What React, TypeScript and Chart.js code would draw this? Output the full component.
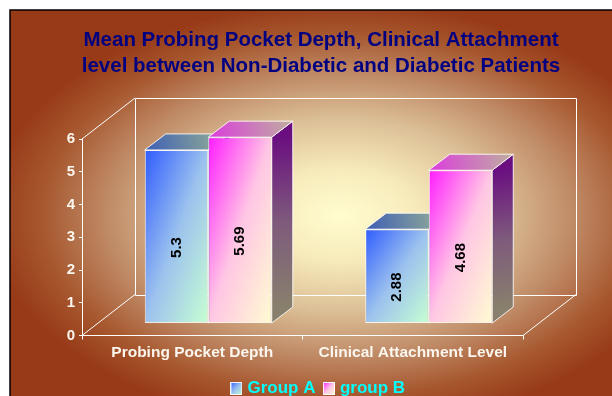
import React, { useEffect, useRef } from 'react';
import { Chart, registerables } from 'chart.js';

Chart.register(...registerables);

// ---------- data ----------
const categories = ['Probing Pocket Depth', 'Clinical Attachment Level'];
const groupA = [5.3, 2.88];
const groupB = [5.69, 4.68];
const seriesNames = ['Group A', 'group B'];
const yMin = 0;
const yMax = 6;
const yStep = 1;
const titleLines = [
  'Mean Probing Pocket Depth, Clinical Attachment',
  'level between Non-Diabetic and Diabetic Patients',
];

// ---------- styles ----------
const FONT = '"Liberation Sans", Arial, Helvetica, sans-serif';
const AXIS_TEXT = '#fbf6ee';
const BAR_SHIFT = { dx: 16, dy: -12 };
const BAR_DEPTH = { dx: 21, dy: -16 };
const WALL_DEPTH = { dx: 53, dy: -41 };
const LABEL_DROP = 11;

type Stops = [number, string][];
const FRONT: Stops[] = [
  [[0, '#2f5cff'], [0.5, '#9cc2ee'], [1, '#c8ffd2']],
  [[0, '#ff1cff'], [0.5, '#ffc6e4'], [1, '#fffcd2']],
];
const TOP: Stops[] = [
  [[0, '#3e5fb4'], [1, '#9ab494']],
  [[0, '#dc3cdc'], [1, '#beb0a0']],
];
const SIDE: Stops[] = [
  [[0, '#203c98'], [0.5, '#4a6a9a'], [1, '#7c9088']],
  [[0, '#6a0e80'], [0.5, '#7e5a7c'], [1, '#88806c']],
];

function diagGradient(ctx: CanvasRenderingContext2D, l: number, t: number, r: number, b: number, stops: Stops) {
  const w = Math.max(1, r - l);
  const h = Math.max(1, b - t);
  const k = (2 * w * h) / (h * h + w * w);
  const g = ctx.createLinearGradient(l, t, l + h * k, t + w * k);
  stops.forEach(([o, c]) => g.addColorStop(o, c));
  return g;
}

function polyGradient(ctx: CanvasRenderingContext2D, pts: number[][], stops: Stops, from: number[], to: number[]) {
  const g = ctx.createLinearGradient(from[0], from[1], to[0], to[1]);
  stops.forEach(([o, c]) => g.addColorStop(o, c));
  ctx.beginPath();
  ctx.moveTo(pts[0][0], pts[0][1]);
  for (let i = 1; i < pts.length; i++) ctx.lineTo(pts[i][0], pts[i][1]);
  ctx.closePath();
  ctx.fillStyle = g;
  ctx.fill();
  ctx.strokeStyle = 'rgba(255,255,255,0.85)';
  ctx.lineWidth = 1;
  ctx.stroke();
}

function makeMarker(stops: Stops) {
  const c = document.createElement('canvas');
  c.width = 12;
  c.height = 13;
  const x = c.getContext('2d')!;
  x.fillStyle = diagGradient(x, 0, 0, 12, 13, stops);
  x.fillRect(0, 0, 12, 13);
  x.strokeStyle = 'rgba(255,255,255,0.9)';
  x.lineWidth = 1;
  x.strokeRect(0.5, 0.5, 11, 12);
  return c;
}

const decorPlugin = {
  id: 'decor3d',
  beforeDraw(chart: any) {
    const { ctx, width, height } = chart;
    const area = chart.chartArea;
    ctx.save();
    ctx.fillStyle = '#ffffff';
    ctx.fillRect(0, 0, width, height);
    // framed radial background
    const fx = 10, fy = 10;
    ctx.beginPath();
    ctx.rect(fx, fy, width - fx, height - fy);
    ctx.clip();
    const cx = 340, cy = 215, rx = 350, ry = 212;
    ctx.translate(cx, cy);
    ctx.scale(1, ry / rx);
    const g = ctx.createRadialGradient(0, 0, 0, 0, 0, rx);
    g.addColorStop(0, '#fffdd0');
    g.addColorStop(0.22, '#f7eaba');
    g.addColorStop(0.45, '#dcc097');
    g.addColorStop(0.66, '#c08c68');
    g.addColorStop(0.85, '#a7582f');
    g.addColorStop(1, '#983a18');
    ctx.fillStyle = g;
    ctx.fillRect(-2000, -2000, 4000, 4000);
    ctx.restore();

    ctx.save();
    ctx.strokeStyle = '#000000';
    ctx.lineWidth = 1.5;
    ctx.beginPath();
    ctx.moveTo(fx, height);
    ctx.lineTo(fx, fy);
    ctx.lineTo(width, fy);
    ctx.stroke();

    // title
    ctx.fillStyle = '#000080';
    ctx.font = `bold 20.5px ${FONT}`;
    ctx.textAlign = 'center';
    ctx.textBaseline = 'middle';
    ctx.fillText(titleLines[0], 321, 40);
    ctx.fillText(titleLines[1], 321, 66);

    // walls from the scales
    const ys = chart.scales.y;
    const top = ys.getPixelForValue(yMax);
    const bot = ys.getPixelForValue(yMin);
    const l = area.left, r = area.right;
    const { dx, dy } = WALL_DEPTH;
    ctx.strokeStyle = '#ffffff';
    ctx.lineWidth = 1;
    ctx.beginPath();
    ctx.rect(Math.round(l + dx) + 0.5, Math.round(top + dy) + 0.5, Math.round(r - l), Math.round(bot - top));
    ctx.moveTo(l, top);
    ctx.lineTo(l + dx, top + dy);
    ctx.moveTo(l, bot);
    ctx.lineTo(l + dx, bot + dy);
    ctx.moveTo(r, bot);
    ctx.lineTo(r + dx, bot + dy);
    ctx.stroke();
    ctx.restore();
  },
  beforeDatasetsDraw(chart: any) {
    const ctx = chart.ctx;
    ctx.save();
    ctx.translate(BAR_SHIFT.dx, BAR_SHIFT.dy);
    const { dx, dy } = BAR_DEPTH;
    const metas = chart.data.datasets.map((_: any, i: number) => chart.getDatasetMeta(i));
    for (let i = 0; i < categories.length; i++) {
      metas.forEach((meta: any, di: number) => {
        const el = meta.data[i];
        if (!el) return;
        const l = el.x - el.width / 2;
        const r = el.x + el.width / 2;
        const t = el.y;
        const b = el.base;
        polyGradient(ctx, [[r, t], [r + dx, t + dy], [r + dx, b + dy], [r, b]], SIDE[di], [r, t], [r + dx, b + dy]);
        polyGradient(ctx, [[l, t], [r, t], [r + dx, t + dy], [l + dx, t + dy]], TOP[di], [l, t], [r + dx, t + dy]);
      });
    }
  },
  afterDatasetsDraw(chart: any) {
    const ctx = chart.ctx;
    chart.data.datasets.forEach((ds: any, di: number) => {
      const meta = chart.getDatasetMeta(di);
      meta.data.forEach((el: any, i: number) => {
        ctx.save();
        ctx.translate(el.x, (el.y + el.base) / 2 + LABEL_DROP);
        ctx.rotate(-Math.PI / 2);
        ctx.font = `bold 15px ${FONT}`;
        ctx.fillStyle = '#000000';
        ctx.textAlign = 'center';
        ctx.textBaseline = 'middle';
        ctx.fillText(String(ds.data[i]), 0, 0);
        ctx.restore();
      });
    });
    ctx.restore();
  },
};

function frontFill(di: number, fallback: string) {
  return (c: any) => {
    const el = c.element;
    if (!el || el.x === undefined || el.base === undefined || isNaN(el.x)) return fallback;
    const l = el.x - el.width / 2;
    const r = el.x + el.width / 2;
    const t = Math.min(el.y, el.base);
    const b = Math.max(el.y, el.base);
    return diagGradient(c.chart.ctx, l, t, r, b, FRONT[di]);
  };
}

export default function App() {
  const ref = useRef<HTMLCanvasElement | null>(null);
  useEffect(() => {
    if (!ref.current) return;
    const markers = [makeMarker(FRONT[0]), makeMarker(FRONT[1])];
    const chart = new Chart(ref.current, {
      type: 'bar',
      data: {
        labels: categories,
        datasets: [
          {
            label: seriesNames[0],
            data: groupA,
            backgroundColor: frontFill(0, '#6d92f4'),
            borderColor: 'rgba(255,255,255,0.85)',
            borderWidth: 1,
            borderSkipped: false,
            categoryPercentage: 0.576,
            barPercentage: 1,
          },
          {
            label: seriesNames[1],
            data: groupB,
            backgroundColor: frontFill(1, '#ff8cf0'),
            borderColor: 'rgba(255,255,255,0.85)',
            borderWidth: 1,
            borderSkipped: false,
            categoryPercentage: 0.576,
            barPercentage: 1,
          },
        ],
      },
      options: {
        responsive: false,
        animation: false,
        devicePixelRatio: 1,
        layout: { padding: { left: 52, right: 25, top: 139, bottom: -11 } },
        scales: {
          x: {
            ticks: { color: AXIS_TEXT, font: { family: FONT, size: 15.5, weight: 'bold' }, padding: 4, maxRotation: 0, autoSkip: false },
            grid: { drawOnChartArea: false, color: '#ffffff', tickLength: 4, offset: true },
            border: { color: '#ffffff', width: 1 },
            afterFit: (s: any) => { s.height = 33.5; },
          },
          y: {
            min: yMin,
            max: yMax,
            ticks: { stepSize: yStep, color: AXIS_TEXT, font: { family: FONT, size: 15, weight: 'bold' }, padding: 4 },
            grid: { drawOnChartArea: false, color: '#ffffff', tickLength: 3 },
            border: { color: '#ffffff', width: 1 },
            afterFit: (s: any) => { s.width = 30; },
          },
          y2: {
            position: 'right',
            display: true,
            ticks: { display: false },
            grid: { display: false },
            border: { display: false },
            afterFit: (s: any) => { s.width = 64; },
          },
        },
        plugins: {
          title: { display: false },
          tooltip: { enabled: false },
          legend: {
            position: 'bottom',
            labels: {
              usePointStyle: true,
              boxWidth: 5,
              padding: 11,
              color: '#00ffff',
              font: { family: FONT, size: 17, weight: 'bold' },
              generateLabels: (ch: any) =>
                ch.data.datasets.map((ds: any, i: number) => ({
                  text: ds.label,
                  pointStyle: markers[i],
                  fillStyle: 'rgba(0,0,0,0)',
                  strokeStyle: 'rgba(0,0,0,0)',
                  lineWidth: 0,
                  hidden: false,
                  datasetIndex: i,
                  fontColor: '#00ffff',
                })),
            },
          },
        },
      } as any,
      plugins: [decorPlugin],
    });
    chart.update();
    return () => chart.destroy();
  }, []);
  return (
    <div style={{ position: 'fixed', left: 0, top: 0, width: 612, height: 396, overflow: 'hidden' }}>
      <canvas ref={ref} width={612} height={396} style={{ display: 'block', width: 612, height: 396 }} />
    </div>
  );
}
